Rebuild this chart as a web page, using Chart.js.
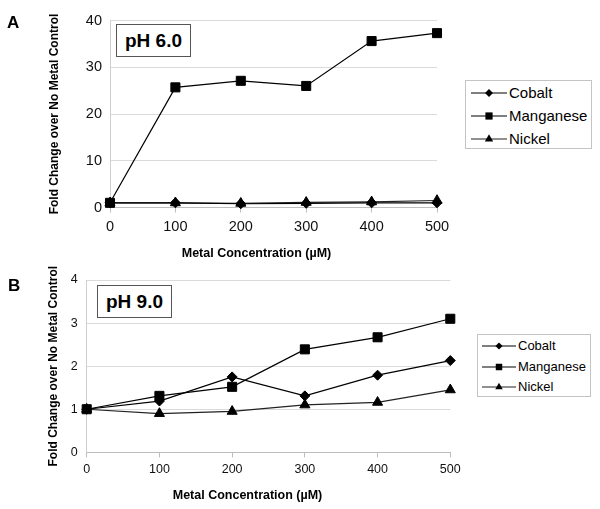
<!DOCTYPE html>
<html>
<head>
<meta charset="utf-8">
<script src="https://cdn.jsdelivr.net/npm/chart.js@4"></script>
<style>
  html, body { margin: 0; padding: 0; background: #fff; }
  body { width: 600px; height: 509px; position: relative; overflow: hidden; font-family: "Liberation Sans", Arial, sans-serif; color: #000; }
  canvas { position: absolute; }
  .panel { position: absolute; font-weight: bold; font-size: 17px; line-height: 1; }
  .phbox { position: absolute; border: 1px solid #555; background: #fff; font-weight: bold; font-size: 19px; display: flex; align-items: center; justify-content: center; box-sizing: border-box; }
  .xtitle { position: absolute; font-weight: bold; font-size: 12.5px; white-space: nowrap; transform: translate(-50%, -50%); }
  .legend { position: absolute; border: 1px solid #c4c4c4; box-sizing: border-box; background: #fff; }
  .legend .row { position: absolute; left: 0; display: flex; align-items: center; white-space: nowrap; }
  .legend svg { display: block; }
</style>
</head>
<body>
<canvas id="chartA" width="460" height="262" style="left:0;top:0"></canvas>
<canvas id="chartB" width="470" height="247" style="left:0;top:262px"></canvas>

<div class="panel" style="left:7px;top:14px">A</div>
<div class="panel" style="left:8px;top:277px">B</div>
<div class="phbox" style="left:116px;top:24px;width:75px;height:33px">pH 6.0</div>
<div class="phbox" style="left:97px;top:285px;width:75px;height:33px">pH 9.0</div>
<div class="xtitle" style="left:256.5px;top:253px">Metal Concentration (µM)</div>
<div class="xtitle" style="left:247.5px;top:495px">Metal Concentration (µM)</div>

<div class="legend" id="legendA" style="left:465px;top:80px;width:127px;height:69px"></div>
<div class="legend" id="legendB" style="left:477px;top:334px;width:114px;height:63px"></div>

<script>
// ---- data ----
const concentrations = [0, 100, 200, 300, 400, 500];
const seriesNames = ["Cobalt", "Manganese", "Nickel"];

// Panel A: pH 6.0
const cobaltA    = [1.0, 1.0, 0.8, 0.9, 1.0, 1.0];
const manganeseA = [1.0, 25.7, 27.1, 26.0, 35.6, 37.3];
const nickelA    = [1.0, 1.0, 0.9, 1.1, 1.2, 1.5];
const yTicksA = [0, 10, 20, 30, 40];

// Panel B: pH 9.0
const cobaltB    = [1.0, 1.19, 1.75, 1.31, 1.79, 2.13];
const manganeseB = [1.0, 1.31, 1.52, 2.39, 2.67, 3.10];
const nickelB    = [1.0, 0.90, 0.95, 1.10, 1.16, 1.45];
const yTicksB = [0, 1, 2, 3, 4];

// ---- styles ----
const FONT = '"Liberation Sans", Arial, sans-serif';
const styles = {
  Cobalt:    { pointStyle: 'rectRot',  radius: 5,   color: '#000', order: 1 },
  Manganese: { pointStyle: 'rect',     radius: 6.4, color: '#000', order: 0 },
  Nickel:    { pointStyle: 'triangle', radius: 5.8, color: '#222', order: 2 }
};

function toPoints(vals) { return concentrations.map((x, i) => ({ x: x, y: vals[i] })); }

function makeDataset(name, vals) {
  const s = styles[name];
  return {
    label: name,
    data: toPoints(vals),
    borderColor: s.color,
    backgroundColor: '#000',
    pointBackgroundColor: '#000',
    pointBorderColor: '#000',
    pointBorderWidth: 1,
    borderWidth: 1.2,
    pointStyle: s.pointStyle,
    pointRadius: s.radius,
    pointHoverRadius: s.radius,
    order: s.order,
    tension: 0,
    fill: false,
    clip: false
  };
}

function makeChart(id, datasets, yTicks, cfg) {
  return new Chart(document.getElementById(id), {
    type: 'line',
    data: { datasets: datasets },
    options: {
      responsive: false,
      animation: false,
      devicePixelRatio: 1,
      layout: { padding: cfg.padding },
      plugins: { legend: { display: false }, tooltip: { enabled: false } },
      scales: {
        x: {
          type: 'linear',
          min: concentrations[0],
          max: concentrations[concentrations.length - 1],
          afterBuildTicks: (s) => { s.ticks = concentrations.map(v => ({ value: v })); },
          ticks: { color: '#111', font: { family: FONT, size: cfg.tickSize }, padding: cfg.xTickPad, maxRotation: 0 },
          grid: { drawOnChartArea: false, drawTicks: true, tickLength: 5, color: '#bdbdbd' },
          border: { color: '#bdbdbd', width: 1 },
          afterFit: (s) => { s.height = cfg.xHeight; }
        },
        y: {
          min: yTicks[0],
          max: yTicks[yTicks.length - 1],
          afterBuildTicks: (s) => { s.ticks = yTicks.map(v => ({ value: v })); },
          ticks: { color: '#111', font: { family: FONT, size: cfg.tickSize }, padding: cfg.yTickPad },
          grid: { color: '#dadada', drawTicks: false, lineWidth: 1 },
          border: { color: '#cfcfcf', width: 1 },
          title: {
            display: true,
            text: 'Fold Change over No Metal Control',
            color: '#000',
            font: { family: FONT, size: 12, weight: 'bold' },
            padding: 0
          },
          afterFit: (s) => { s.width = cfg.yWidth; }
        }
      }
    }
  });
}

makeChart('chartA', [
  makeDataset('Cobalt', cobaltA),
  makeDataset('Manganese', manganeseA),
  makeDataset('Nickel', nickelA)
], yTicksA, {
  padding: { left: 47.3, top: 20.5, right: 23, bottom: 2 },
  yWidth: 62.7, xHeight: 52.5, tickSize: 14.5, xTickPad: 6, yTickPad: 8
});

makeChart('chartB', [
  makeDataset('Cobalt', cobaltB),
  makeDataset('Manganese', manganeseB),
  makeDataset('Nickel', nickelB)
], yTicksB, {
  padding: { left: 46.8, top: 18, right: 19.7, bottom: 0 },
  yWidth: 39.9, xHeight: 56.7, tickSize: 12.5, xTickPad: 5, yTickPad: 9
});

// ---- HTML legends ----
function markerSvg(name, w, cy, scale) {
  const c = w / 2;
  let m = '';
  if (name === 'Cobalt') {
    const r = 4 * scale;
    m = `<polygon points="${c - r},${cy} ${c},${cy - r} ${c + r},${cy} ${c},${cy + r}" fill="#000"/>`;
  } else if (name === 'Manganese') {
    const h = 3.6 * scale;
    m = `<rect x="${c - h}" y="${cy - h}" width="${2 * h}" height="${2 * h}" fill="#000"/>`;
  } else {
    const r = 4.8 * scale;
    m = `<polygon points="${c - r * 0.866},${cy + r * 0.5} ${c},${cy - r} ${c + r * 0.866},${cy + r * 0.5}" fill="#000"/>`;
  }
  return m;
}
function buildLegend(id, rows, lineW, fontSize, scale, textGap) {
  const el = document.getElementById(id);
  rows.forEach((r) => {
    const row = document.createElement('div');
    row.className = 'row';
    row.style.top = r.top + 'px';
    row.style.left = r.left + 'px';
    const h = 14;
    const cy = h / 2;
    const col = styles[r.name].color;
    row.innerHTML = `<svg width="${lineW}" height="${h}"><line x1="0" y1="${cy}" x2="${lineW}" y2="${cy}" stroke="${col}" stroke-width="1.2"/>${markerSvg(r.name, lineW, cy, scale)}</svg><span style="font-size:${fontSize}px;margin-left:${textGap}px;line-height:${h}px">${r.name}</span>`;
    el.appendChild(row);
  });
}
buildLegend('legendA', seriesNames.map((n, i) => ({ name: n, top: [5, 28, 51][i], left: 5 })), 36, 15, 1.0, 2);
buildLegend('legendB', seriesNames.map((n, i) => ({ name: n, top: [4, 25, 45][i], left: 4 })), 34, 13, 0.9, 2);
</script>
</body>
</html>
